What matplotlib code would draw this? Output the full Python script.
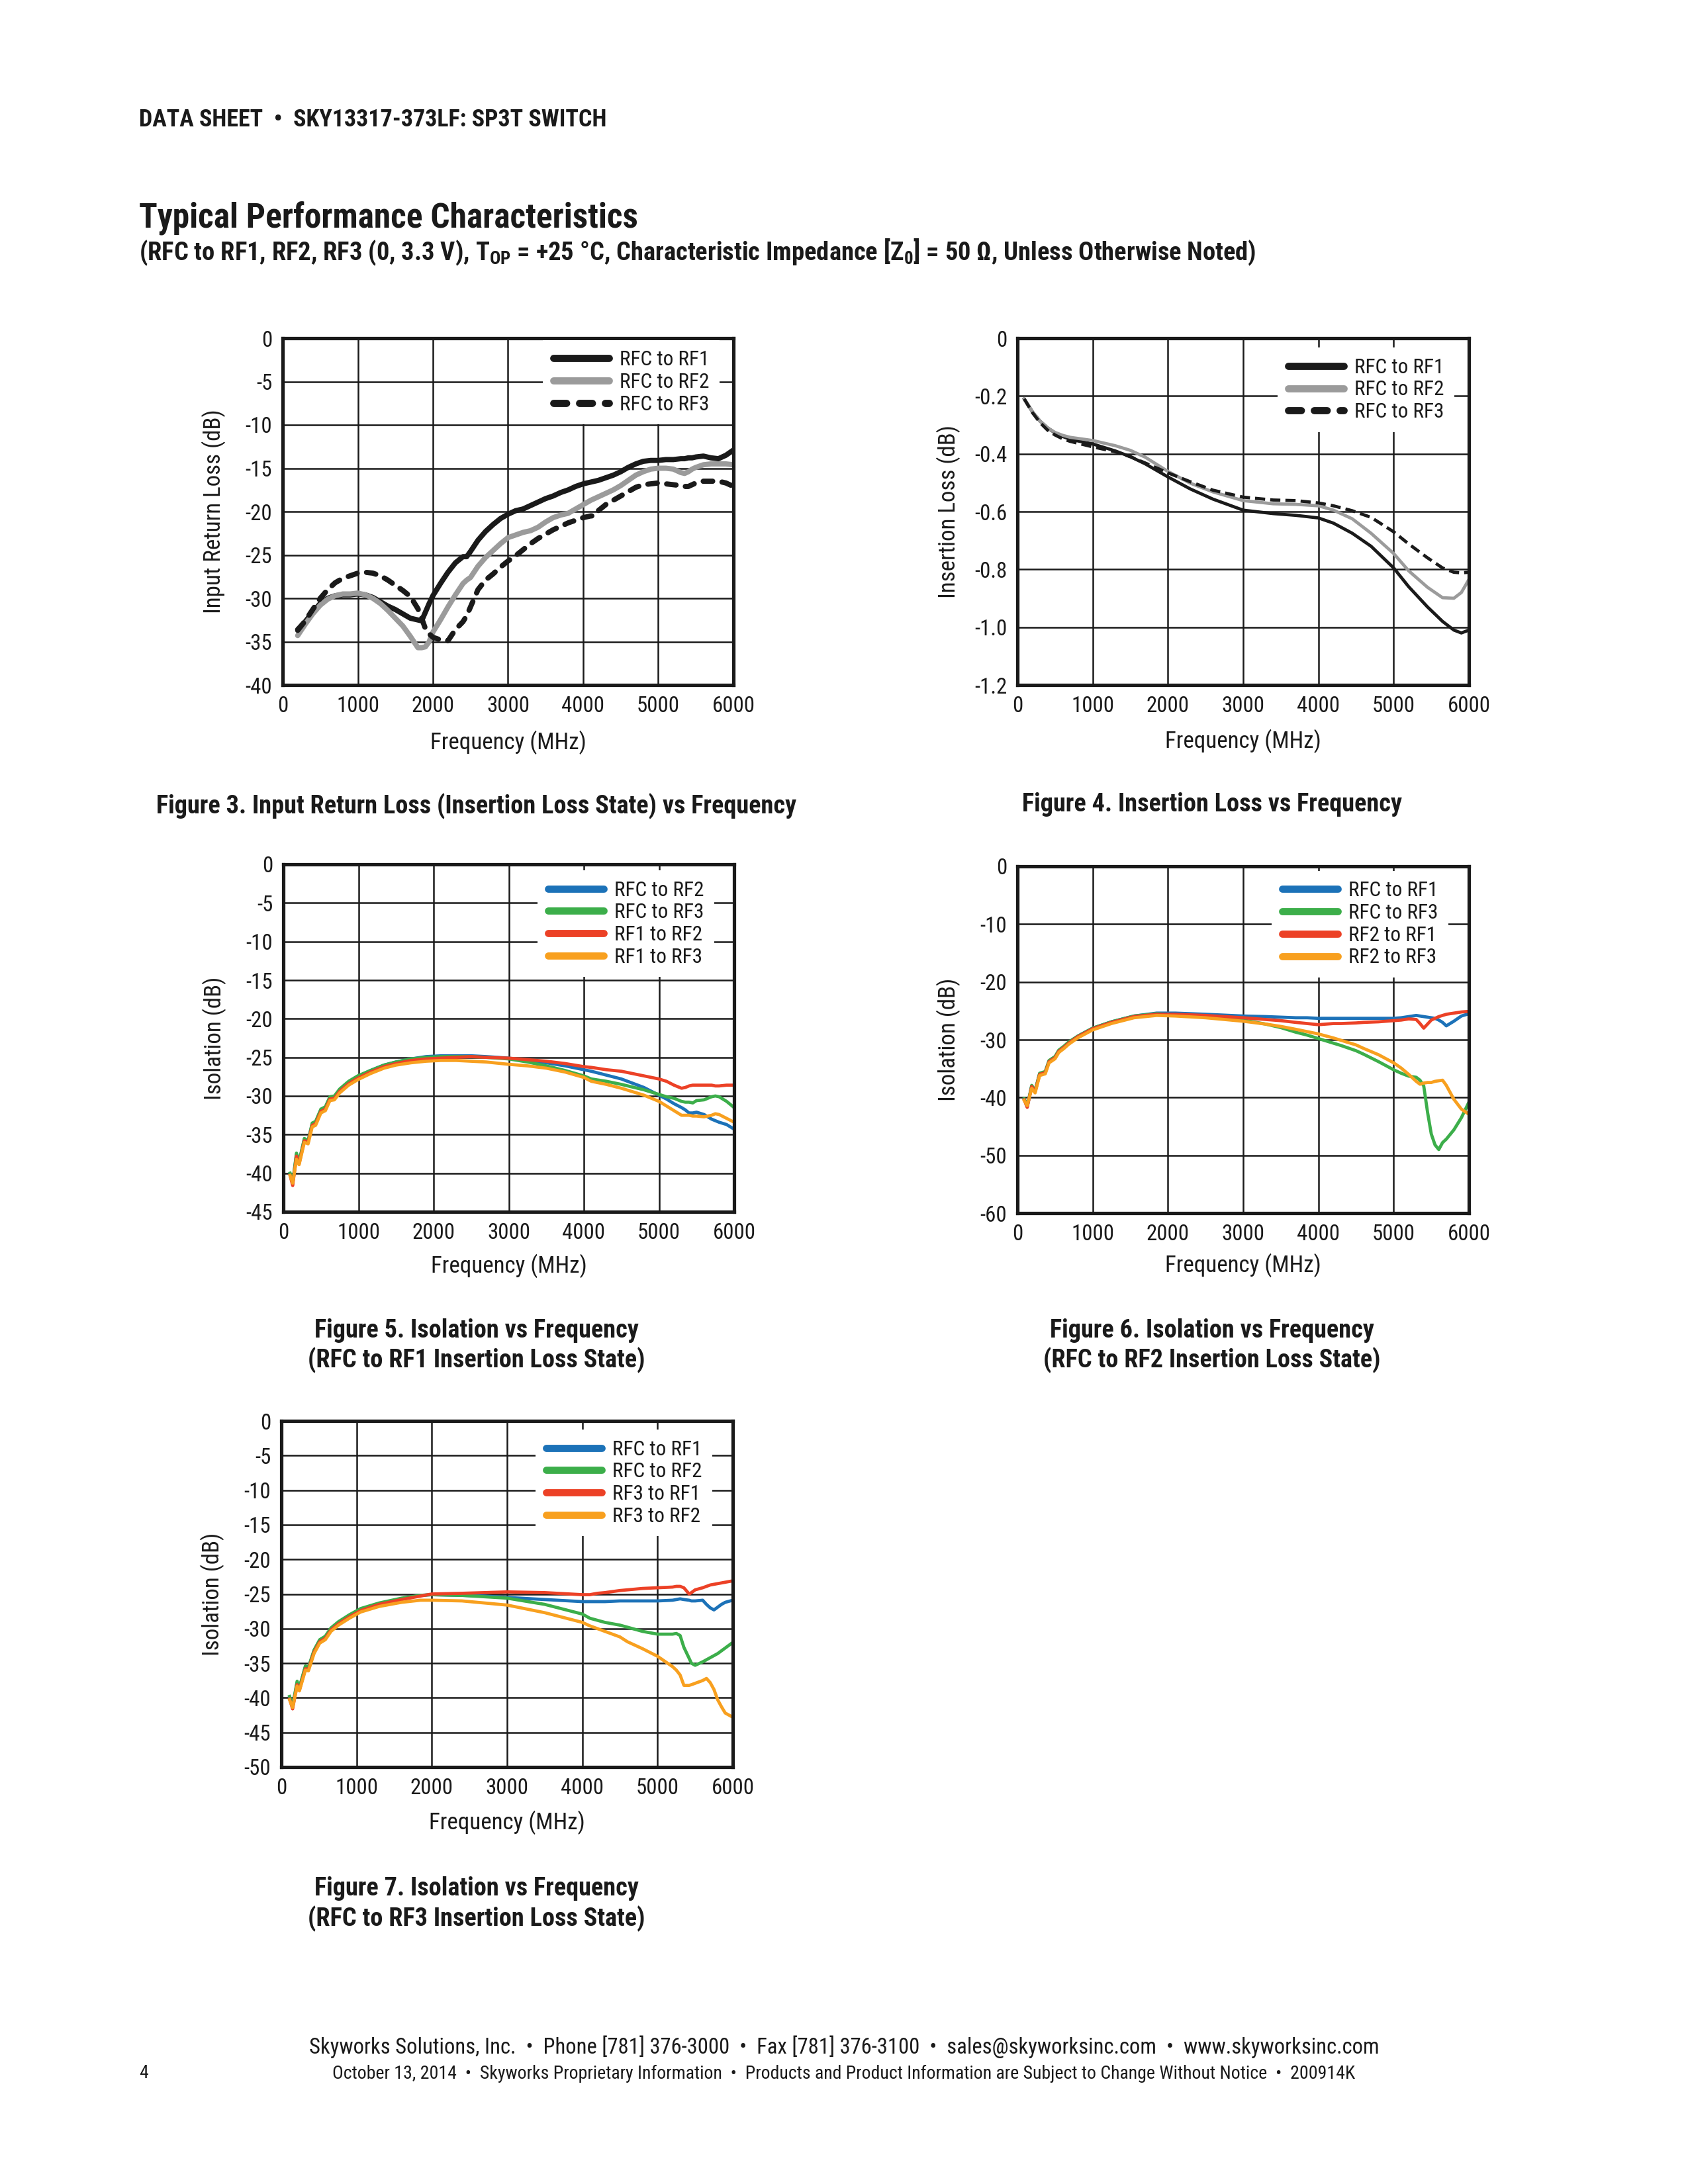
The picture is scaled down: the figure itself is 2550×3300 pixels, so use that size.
import numpy as np
import matplotlib
matplotlib.use('Agg')
import matplotlib.pyplot as plt
from matplotlib import font_manager as fm

# condensed sans to stand in for Helvetica Condensed, first one that is installed
_have = {(f.name, f.weight) for f in fm.fontManager.ttflist}


def pick_font(cands, weight):
    for c in cands:
        if (c, weight) in _have:
            return c
    return 'Liberation Sans'


COND = ['Roboto Condensed', 'Archivo Narrow', 'Liberation Sans Narrow', 'IBM Plex Sans Condensed',
        'Fira Sans Condensed', 'Encode Sans Condensed']
REG_FONT = pick_font(COND, 400)
BOLD_FONT = pick_font(COND, 700)

plt.rcParams['font.family'] = [REG_FONT, 'DejaVu Sans']
plt.rcParams['axes.unicode_minus'] = False

W, H, DPI = 2550, 3300, 300

# ===== shared axis labels =====
XTICKS = [0, 1000, 2000, 3000, 4000, 5000, 6000]
XTICKLABELS = ['0', '1000', '2000', '3000', '4000', '5000', '6000']

# ===== Figure 3: input return loss =====
F3 = [200, 300, 400, 500, 600, 700, 800, 900, 1000, 1100, 1200, 1300, 1400, 1500, 1600, 1700, 1800,
      1850, 1900, 1950, 2000, 2100, 2200, 2300, 2400, 2450,
      2500, 2600, 2700, 2800, 2900, 3000, 3100, 3200, 3300, 3400, 3500, 3600, 3700, 3800, 3900, 4000, 4100,
      4150, 4200, 4300, 4400, 4500, 4600, 4700, 4800, 4900, 5000, 5100, 5200, 5300,
      5350, 5400, 5450, 5500, 5600, 5700, 5800, 5900, 6000]
RL_RF1 = [-33.6, -32.7, -31.6, -30.6, -30.0, -29.7, -29.6, -29.6, -29.5, -29.6, -29.9, -30.4, -30.9, -31.3, -31.8, -32.3, -32.5,
          -32.6, -31.6, -30.6, -29.7, -28.3, -27.0, -25.9, -25.2, -25.2,
          -24.6, -23.3, -22.3, -21.5, -20.8, -20.3, -19.9, -19.7, -19.3, -18.9, -18.5, -18.2, -17.8, -17.5, -17.1, -16.8, -16.6,
          -16.5, -16.4, -16.1, -15.8, -15.4, -14.9, -14.5, -14.2, -14.1, -14.1, -14.0, -14.0, -13.9,
          -13.9, -13.8, -13.8, -13.7, -13.6, -13.8, -13.9, -13.5, -12.9]
RL_RF2 = [-34.3, -33.0, -31.8, -30.8, -30.1, -29.7, -29.5, -29.5, -29.4, -29.6, -30.0, -30.6, -31.4, -32.3, -33.2, -34.4, -35.7,
          -35.7, -35.6, -35.0, -33.9, -32.5, -31.0, -29.6, -28.3, -27.9,
          -27.6, -26.3, -25.3, -24.5, -23.7, -23.0, -22.7, -22.4, -22.2, -21.8, -21.2, -20.7, -20.4, -20.2, -19.7, -19.2, -18.7,
          -18.5, -18.3, -17.9, -17.5, -17.0, -16.4, -15.8, -15.4, -15.1, -15.0, -15.0, -15.1, -15.5,
          -15.6, -15.4, -15.1, -14.9, -14.6, -14.5, -14.5, -14.5, -14.6]
RL_RF3 = [-33.7, -32.6, -31.3, -30.0, -29.0, -28.2, -27.7, -27.4, -27.1, -27.0, -27.1, -27.4, -27.9, -28.5, -29.1, -29.8, -31.2,
          -32.3, -33.5, -34.1, -34.5, -34.8, -34.9, -33.6, -32.7, -32.0,
          -31.0, -29.0, -27.9, -27.2, -26.4, -25.7, -25.1, -24.4, -23.7, -23.1, -22.6, -22.1, -21.7, -21.3, -21.0, -20.7, -20.5,
          -20.5, -19.9, -19.2, -18.7, -18.2, -17.7, -17.2, -16.9, -16.8, -16.7, -16.8, -16.9, -17.0,
          -17.1, -17.1, -16.9, -16.7, -16.5, -16.5, -16.5, -16.7, -17.1]
Y3 = [0, -5, -10, -15, -20, -25, -30, -35, -40]
Y3_LABELS = ['0', '-5', '-10', '-15', '-20', '-25', '-30', '-35', '-40']

# ===== Figure 4: insertion loss =====
F4 = [90, 200, 300, 400, 500, 600, 700, 1000, 1300, 1500, 1700, 2000, 2300, 2600, 3000, 3400, 3700,
      4000, 4200, 4450, 4700, 5000, 5200, 5450, 5650, 5800, 5900, 6000]
IL_RF1 = [-0.21, -0.255, -0.287, -0.31, -0.328, -0.34, -0.35, -0.366, -0.39, -0.41, -0.435, -0.48, -0.522, -0.557,
          -0.595, -0.607, -0.613, -0.622, -0.64, -0.675, -0.72, -0.795, -0.86, -0.93, -0.98, -1.01, -1.02, -1.01]
IL_RF2 = [-0.21, -0.255, -0.287, -0.31, -0.326, -0.336, -0.343, -0.354, -0.372, -0.388, -0.412, -0.461, -0.502, -0.532,
          -0.562, -0.573, -0.575, -0.58, -0.595, -0.625, -0.675, -0.745, -0.805, -0.862, -0.898, -0.9, -0.88, -0.835]
IL_RF3 = [-0.21, -0.258, -0.292, -0.318, -0.335, -0.348, -0.357, -0.376, -0.393, -0.41, -0.432, -0.466, -0.497, -0.526,
          -0.55, -0.56, -0.562, -0.57, -0.58, -0.597, -0.62, -0.67, -0.712, -0.76, -0.795, -0.81, -0.812, -0.81]
Y4 = [0, -0.2, -0.4, -0.6, -0.8, -1.0, -1.2]
Y4_LABELS = ['0', '-0.2', '-0.4', '-0.6', '-0.8', '-1.0', '-1.2']

# ===== Figure 5: isolation, RFC to RF1 on =====
F5 = [90, 125, 175, 210, 280, 330, 385, 430, 500, 560,
      620, 680, 750, 870, 990, 1160, 1340, 1500, 1700, 1900,
      2100, 2300, 2500, 2700, 3000, 3250, 3500, 3750, 4000, 4100,
      4300, 4500, 4800, 5000, 5100, 5200, 5300, 5350, 5400, 5450,
      5500, 5600, 5700, 5750, 5800, 5900, 6000]
ISO5_RFC_RF2 = [-40.1, -41.3, -37.6, -38.6, -35.6, -35.9, -33.6, -33.4, -31.8, -31.5,
                -30.2, -30.1, -29.2, -28.2, -27.5, -26.7, -26.0, -25.6, -25.2, -24.9,
                -24.8, -24.8, -24.8, -24.9, -25.1, -25.4, -25.7, -26.1, -26.6, -26.8,
                -27.3, -27.8, -28.9, -29.9, -30.4, -31.0, -31.5, -31.8, -32.2, -32.2,
                -32.1, -32.4, -33.0, -33.2, -33.4, -33.7, -34.3]
ISO5_RFC_RF3 = [-40.0, -41.2, -37.4, -38.5, -35.5, -35.8, -33.5, -33.3, -31.7, -31.4,
                -30.1, -30.0, -29.1, -28.1, -27.4, -26.7, -26.0, -25.6, -25.2, -25.0,
                -24.9, -24.9, -24.9, -25.0, -25.2, -25.6, -26.1, -26.7, -27.4, -27.8,
                -28.1, -28.5, -29.2, -29.8, -30.1, -30.3, -30.7, -30.8, -30.8, -30.9,
                -30.6, -30.5, -30.1, -30.0, -30.1, -30.7, -31.5]
ISO5_RF1_RF2 = [-40.3, -41.6, -37.8, -38.8, -35.8, -36.0, -33.8, -33.6, -32.0, -31.7,
                -30.4, -30.3, -29.4, -28.4, -27.7, -26.9, -26.2, -25.8, -25.4, -25.2,
                -25.1, -25.0, -24.9, -25.0, -25.1, -25.3, -25.5, -25.8, -26.2, -26.3,
                -26.6, -26.8, -27.4, -27.8, -28.1, -28.6, -29.0, -28.9, -28.7, -28.6,
                -28.6, -28.6, -28.6, -28.7, -28.7, -28.6, -28.6]
ISO5_RF1_RF3 = [-40.3, -41.3, -38.2, -38.9, -36.0, -36.2, -34.0, -33.8, -32.2, -31.9,
                -30.6, -30.5, -29.6, -28.6, -27.9, -27.1, -26.4, -26.0, -25.7, -25.5,
                -25.4, -25.4, -25.5, -25.6, -25.9, -26.1, -26.4, -26.9, -27.6, -28.1,
                -28.5, -29.0, -29.9, -30.7, -31.3, -31.9, -32.5, -32.5, -32.5, -32.6,
                -32.6, -32.7, -32.5, -32.3, -32.4, -32.9, -33.4]
Y5 = [0, -5, -10, -15, -20, -25, -30, -35, -40, -45]
Y5_LABELS = ['0', '-5', '-10', '-15', '-20', '-25', '-30', '-35', '-40', '-45']

# ===== Figure 6: isolation, RFC to RF2 on =====
F6 = [90, 130, 190, 235, 295, 370, 420, 500, 550, 620,
      680, 800, 1000, 1250, 1550, 1850, 2100, 2500, 3000, 3300,
      3500, 3700, 3850, 4000, 4200, 4300, 4500, 4600, 4800, 4900,
      5000, 5100, 5200, 5300, 5350, 5400, 5450, 5500, 5550, 5600,
      5650, 5700, 5800, 5900, 6000]
ISO6_RFC_RF1 = [-40.3, -41.6, -38.0, -38.9, -35.9, -35.6, -33.7, -33.0, -31.9, -31.2,
                -30.5, -29.4, -28.0, -26.9, -25.9, -25.4, -25.4, -25.6, -25.9, -26.0,
                -26.1, -26.2, -26.2, -26.3, -26.3, -26.3, -26.3, -26.3, -26.3, -26.3,
                -26.3, -26.2, -26.0, -25.8, -25.9, -26.0, -26.1, -26.2, -26.3, -26.6,
                -27.0, -27.6, -26.8, -25.9, -25.5]
ISO6_RFC_RF3 = [-40.2, -41.5, -37.9, -38.8, -35.8, -35.5, -33.6, -32.9, -31.8, -31.1,
                -30.4, -29.4, -28.0, -26.9, -25.9, -25.5, -25.7, -26.1, -26.6, -27.3,
                -27.9, -28.7, -29.2, -29.8, -30.6, -31.0, -31.9, -32.5, -33.8, -34.5,
                -35.2, -35.8, -36.3, -36.5, -37.0, -38.0, -42.5, -46.3, -48.2, -49.0,
                -47.8, -47.2, -45.6, -43.5, -40.8]
ISO6_RF2_RF1 = [-40.4, -41.7, -38.1, -39.0, -36.0, -35.7, -33.8, -33.1, -32.0, -31.3,
                -30.6, -29.5, -28.1, -27.0, -26.0, -25.6, -25.6, -25.8, -26.2, -26.5,
                -26.7, -27.0, -27.2, -27.4, -27.2, -27.2, -27.1, -27.0, -26.9, -26.8,
                -26.7, -26.6, -26.4, -26.5, -27.2, -28.0, -27.3, -26.6, -26.3, -26.0,
                -25.8, -25.6, -25.4, -25.2, -25.1]
ISO6_RF2_RF3 = [-40.5, -41.4, -38.4, -39.2, -36.2, -35.9, -34.0, -33.3, -32.2, -31.5,
                -30.8, -29.7, -28.3, -27.2, -26.2, -25.8, -25.9, -26.2, -26.8, -27.3,
                -27.7, -28.2, -28.6, -29.0, -29.7, -30.1, -30.9, -31.5, -32.6, -33.3,
                -34.0, -34.9, -36.0, -37.2, -37.7, -37.5, -37.4, -37.4, -37.2, -37.1,
                -37.0, -37.9, -40.3, -42.0, -42.9]
Y6 = [0, -10, -20, -30, -40, -50, -60]
Y6_LABELS = ['0', '-10', '-20', '-30', '-40', '-50', '-60']

# ===== Figure 7: isolation, RFC to RF3 on =====
F7 = [110, 150, 210, 240, 320, 360, 435, 510, 585, 660,
      760, 905, 1055, 1300, 1600, 1850, 2000, 2400, 2700, 3000,
      3500, 4000, 4100, 4200, 4300, 4500, 4600, 4800, 5000, 5200,
      5250, 5300, 5350, 5420, 5450, 5500, 5600, 5650, 5700, 5750,
      5800, 5850, 5900, 6000]
ISO7_RFC_RF1 = [-39.9, -41.3, -37.8, -38.6, -35.5, -35.7, -33.2, -31.7, -31.2, -30.0,
                -29.1, -28.1, -27.2, -26.4, -25.7, -25.2, -25.1, -25.2, -25.3, -25.5,
                -25.8, -26.1, -26.1, -26.1, -26.1, -26.0, -26.0, -26.0, -26.0, -25.9,
                -25.8, -25.7, -25.8, -25.9, -26.0, -26.0, -25.9, -26.5, -27.0, -27.3,
                -26.9, -26.5, -26.2, -25.9]
ISO7_RFC_RF2 = [-39.8, -41.2, -37.6, -38.5, -35.4, -35.6, -33.1, -31.6, -31.1, -29.9,
                -29.0, -28.0, -27.1, -26.3, -25.6, -25.2, -25.1, -25.2, -25.4, -25.6,
                -26.5, -27.9, -28.5, -28.8, -29.1, -29.5, -29.8, -30.4, -30.8, -30.8,
                -30.7, -31.0, -32.7, -34.3, -35.0, -35.3, -34.8, -34.5, -34.2, -33.9,
                -33.6, -33.2, -32.8, -32.0]
ISO7_RF3_RF1 = [-40.2, -41.6, -38.1, -38.9, -35.8, -35.9, -33.4, -31.9, -31.4, -30.2,
                -29.3, -28.3, -27.4, -26.5, -25.8, -25.3, -25.0, -24.9, -24.8, -24.7,
                -24.8, -25.1, -25.1, -24.9, -24.8, -24.5, -24.4, -24.2, -24.1, -24.0,
                -23.9, -23.9, -24.1, -25.0, -24.8, -24.4, -24.1, -23.9, -23.7, -23.6,
                -23.5, -23.4, -23.3, -23.1]
ISO7_RF3_RF2 = [-40.3, -41.4, -38.3, -39.0, -36.0, -36.1, -33.6, -32.1, -31.6, -30.4,
                -29.5, -28.5, -27.6, -26.8, -26.2, -25.9, -25.9, -26.0, -26.3, -26.6,
                -27.7, -29.1, -29.6, -30.0, -30.4, -31.2, -31.9, -32.9, -34.0, -35.5,
                -36.0, -36.7, -38.2, -38.2, -38.1, -37.9, -37.5, -37.2, -37.8, -38.8,
                -40.3, -41.3, -42.2, -42.8]
Y7 = [0, -5, -10, -15, -20, -25, -30, -35, -40, -45, -50]
Y7_LABELS = ['0', '-5', '-10', '-15', '-20', '-25', '-30', '-35', '-40', '-45', '-50']

# ===== styles =====
INK = '#1a1a1a'
GRAY = '#9b9b9b'
BLUE, GREEN, RED, ORANGE = '#1c72b8', '#3cae4a', '#ec4126', '#f8a01f'
TICK_FS, LABEL_FS, LEG_FS = 7.9, 8.4, 7.5

fig = plt.figure(figsize=(W / DPI, H / DPI), dpi=DPI)
fig.patch.set_facecolor('white')


def px_axes(x0, y0, x1, y1):
    # pixel box on the page -> figure fraction
    return fig.add_axes([x0 / W, 1 - y1 / H, (x1 - x0) / W, (y1 - y0) / H])


def setup(ax, yt, ytl, ylabel, xlab_y):
    ax.set_xlim(0, 6000)
    ax.set_ylim(yt[-1], yt[0])
    ax.set_xticks(XTICKS)
    ax.set_xticklabels(XTICKLABELS)
    ax.set_yticks(yt)
    ax.set_yticklabels(ytl)
    ax.grid(True, color=INK, lw=0.6)
    ax.set_axisbelow(True)
    ax.tick_params(length=0, pad=3.8, labelsize=TICK_FS, colors=INK)
    for s in ax.spines.values():
        s.set_linewidth(1.25)
        s.set_color(INK)
    ax.set_xlabel('Frequency (MHz)', fontsize=LABEL_FS, va='center', color=INK)
    ax.xaxis.set_label_coords(0.5, xlab_y)
    ax.set_ylabel(ylabel, fontsize=LABEL_FS, va='center', color=INK)
    ax.yaxis.set_label_coords(-0.153, 0.5)


def add_legend(ax, anchor):
    leg = ax.legend(loc='upper right', bbox_to_anchor=anchor, fontsize=LEG_FS,
                    frameon=True, facecolor='white', edgecolor='none', framealpha=1,
                    fancybox=False, handlelength=2.7, handletextpad=0.5,
                    labelspacing=0.15, borderpad=0.5, borderaxespad=0)
    for h in leg.legend_handles:
        h.set_linewidth(2.6)
        h.set_solid_capstyle('round')
        h.set_dash_capstyle('round')
    for t in leg.get_texts():
        t.set_color(INK)
    return leg


# Figure 3
ax = px_axes(427, 511, 1108, 1035)
ax.plot(F3, RL_RF1, color=INK, lw=1.9, label='RFC to RF1', solid_capstyle='round')
ax.plot(F3, RL_RF2, color=GRAY, lw=1.9, label='RFC to RF2', solid_capstyle='round')
ax.plot(F3, RL_RF3, color=INK, lw=1.9, ls=(0, (1.8, 1.8)), dash_capstyle='round', label='RFC to RF3')
setup(ax, Y3, Y3_LABELS, 'Input Return Loss (dB)', -0.165)
add_legend(ax, (0.969, 0.995))

# Figure 4
ax = px_axes(1537, 511, 2219, 1035)
ax.plot(F4, IL_RF1, color=INK, lw=1.15, label='RFC to RF1')
ax.plot(F4, IL_RF2, color=GRAY, lw=1.15, label='RFC to RF2')
ax.plot(F4, IL_RF3, color=INK, lw=1.15, ls=(0, (3.2, 1.6)), label='RFC to RF3')
setup(ax, Y4, Y4_LABELS, 'Insertion Loss (dB)', -0.161)
leg = add_legend(ax, (0.968, 0.973))
leg.legend_handles[2].set_linestyle((0, (1.8, 1.8)))

# Figure 5
ax = px_axes(428, 1306, 1109, 1831)
ax.plot(F5, ISO5_RFC_RF2, color=BLUE, lw=1.15, label='RFC to RF2')
ax.plot(F5, ISO5_RFC_RF3, color=GREEN, lw=1.15, label='RFC to RF3')
ax.plot(F5, ISO5_RF1_RF2, color=RED, lw=1.15, label='RF1 to RF2')
ax.plot(F5, ISO5_RF1_RF3, color=ORANGE, lw=1.15, label='RF1 to RF3')
setup(ax, Y5, Y5_LABELS, 'Isolation (dB)', -0.155)
add_legend(ax, (0.956, 0.983))

# Figure 6
ax = px_axes(1537, 1309, 2219, 1833)
ax.plot(F6, ISO6_RFC_RF1, color=BLUE, lw=1.15, label='RFC to RF1')
ax.plot(F6, ISO6_RFC_RF3, color=GREEN, lw=1.15, label='RFC to RF3')
ax.plot(F6, ISO6_RF2_RF1, color=RED, lw=1.15, label='RF2 to RF1')
ax.plot(F6, ISO6_RF2_RF3, color=ORANGE, lw=1.15, label='RF2 to RF3')
setup(ax, Y6, Y6_LABELS, 'Isolation (dB)', -0.151)
add_legend(ax, (0.954, 0.987))

# Figure 7
ax = px_axes(425, 2147, 1107, 2670)
ax.plot(F7, ISO7_RFC_RF1, color=BLUE, lw=1.15, label='RFC to RF1')
ax.plot(F7, ISO7_RFC_RF2, color=GREEN, lw=1.15, label='RFC to RF2')
ax.plot(F7, ISO7_RF3_RF1, color=RED, lw=1.15, label='RF3 to RF1')
ax.plot(F7, ISO7_RF3_RF2, color=ORANGE, lw=1.15, label='RF3 to RF2')
setup(ax, Y7, Y7_LABELS, 'Isolation (dB)', -0.161)
add_legend(ax, (0.954, 0.975))

# ===== page text =====
def ptext(x, y, s, bold=False, **kw):
    if bold:
        kw.update(family=[BOLD_FONT, 'DejaVu Sans'], fontweight='bold')
    fig.text(x / W, 1 - y / H, s, va='center', color=INK, **kw)

ptext(210, 181, 'DATA SHEET  •  SKY13317-373LF: SP3T SWITCH', bold=True, fontsize=8.65)
ptext(210, 330, 'Typical Performance Characteristics', bold=True, fontsize=12.35)
ptext(210, 381, r'(RFC to RF1, RF2, RF3 (0, 3.3 V), T$_\mathregular{OP}$ = +25 °C, '
                r'Characteristic Impedance [Z$_\mathregular{0}$] = 50 Ω, Unless Otherwise Noted)',
      bold=True, fontsize=9.25)

cap_kw = dict(bold=True, fontsize=9.2, ha='center')
ptext(720, 1218, 'Figure 3. Input Return Loss (Insertion Loss State) vs Frequency', **cap_kw)
ptext(1831, 1215, 'Figure 4. Insertion Loss vs Frequency', **cap_kw)
ptext(720, 2010, 'Figure 5. Isolation vs Frequency', **cap_kw)
ptext(720, 2055, '(RFC to RF1 Insertion Loss State)', **cap_kw)
ptext(1831, 2010, 'Figure 6. Isolation vs Frequency', **cap_kw)
ptext(1831, 2055, '(RFC to RF2 Insertion Loss State)', **cap_kw)
ptext(720, 2853, 'Figure 7. Isolation vs Frequency', **cap_kw)
ptext(720, 2899, '(RFC to RF3 Insertion Loss State)', **cap_kw)

ptext(1275, 3093, 'Skyworks Solutions, Inc.  •  Phone [781] 376-3000  •  Fax [781] 376-3100  •  '
                  'sales@skyworksinc.com  •  www.skyworksinc.com', fontsize=7.83, ha='center')
ptext(1275, 3133, 'October 13, 2014  •  Skyworks Proprietary Information  •  Products and Product '
                  'Information are Subject to Change Without Notice  •  200914K', fontsize=6.7, ha='center')
ptext(210, 3133, '4', fontsize=6.7)

plt.savefig('out.png', dpi=DPI)
plt.close()
